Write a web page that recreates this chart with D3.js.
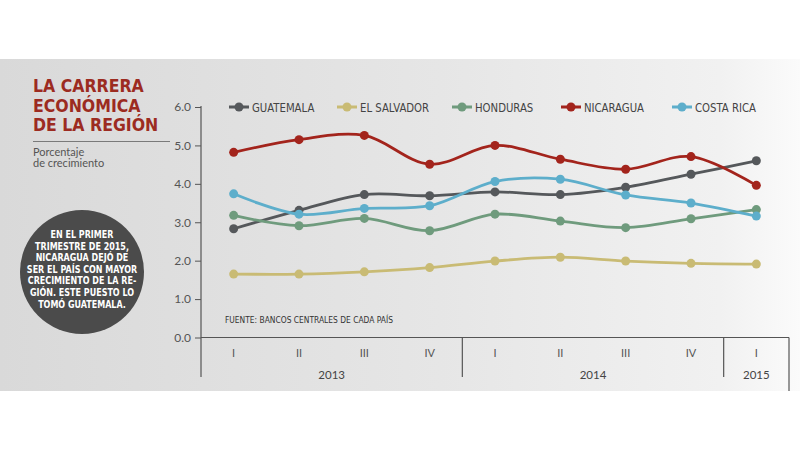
<!DOCTYPE html>
<html>
<head>
<meta charset="utf-8">
<script src="https://cdn.jsdelivr.net/npm/d3@7"></script>
<style>
  body { margin: 0; background: #fff; }
  svg { display: block; }
  .narrow { font-family: "Liberation Sans Narrow", "DejaVu Sans Condensed", "Roboto", sans-serif; font-stretch: condensed; }
  .light { font-family: "Lato", "Open Sans", sans-serif; }
</style>
</head>
<body>
<svg width="800" height="450"></svg>
<script>
// data
const quarters = ["I", "II", "III", "IV", "I", "II", "III", "IV", "I"];
const years = ["2013", "2014", "2015"];
const quartersPerYear = [4, 4, 1];
const countries = ["GUATEMALA", "EL SALVADOR", "HONDURAS", "NICARAGUA", "COSTA RICA"];
const colors = ["#55585b", "#c9bb74", "#6f9b7d", "#a3241c", "#5daecb"];
const guatemala = [2.83, 3.31, 3.72, 3.69, 3.79, 3.72, 3.91, 4.25, 4.6];
const elSalvador = [1.65, 1.65, 1.71, 1.82, 1.99, 2.09, 1.99, 1.93, 1.91];
const honduras = [3.18, 2.91, 3.1, 2.78, 3.21, 3.03, 2.86, 3.09, 3.33];
const nicaragua = [4.82, 5.15, 5.26, 4.51, 5.0, 4.64, 4.38, 4.71, 3.96];
const costaRica = [3.74, 3.21, 3.36, 3.43, 4.06, 4.12, 3.71, 3.5, 3.16];
const yTicks = [0, 1, 2, 3, 4, 5, 6];
const series = [guatemala, elSalvador, honduras, nicaragua, costaRica];

const svg = d3.select("svg");

// squeeze a text selection horizontally (no narrow font installed)
function condense(sel, k) {
  sel.each(function() {
    const w = this.getComputedTextLength();
    d3.select(this).attr("textLength", w * k).attr("lengthAdjust", "spacingAndGlyphs");
  });
}

// background band
const grad = svg.append("defs").append("linearGradient").attr("id", "bg");
grad.append("stop").attr("offset", "0%").attr("stop-color", "#d9d9d9");
grad.append("stop").attr("offset", "55%").attr("stop-color", "#e6e6e6");
grad.append("stop").attr("offset", "90%").attr("stop-color", "#f1f1f1");
grad.append("stop").attr("offset", "100%").attr("stop-color", "#fbfbfb");
svg.append("rect").attr("x", 0).attr("y", 59).attr("width", 800).attr("height", 332)
  .attr("fill", "url(#bg)");

const x = d3.scaleBand().domain(d3.range(quarters.length)).range([201, 789]);
const xc = i => x(i) + x.bandwidth() / 2;
const y = d3.scaleLinear().domain([0, 6]).range([337.5, 107]);

// title block
const title = ["LA CARRERA", "ECONÓMICA", "DE LA REGIÓN"];
svg.append("g").selectAll("text").data(title).enter().append("text")
  .attr("class", "narrow")
  .attr("x", 33).attr("y", (d, i) => 92 + i * 19.5)
  .attr("font-size", 17.5).attr("font-weight", "bold").attr("fill", "#9c2b21")
  .text(d => d);
svg.append("line").attr("x1", 33).attr("x2", 170).attr("y1", 141.5).attr("y2", 141.5)
  .attr("stroke", "#7a7a7a").attr("stroke-width", 1);
svg.append("g").selectAll("text").data(["Porcentaje", "de crecimiento"]).enter().append("text")
  .attr("class", "light")
  .attr("x", 33).attr("y", (d, i) => 155.5 + i * 11.5)
  .attr("font-size", 11).attr("fill", "#555")
  .text(d => d);

// note circle
const note = ["EN EL PRIMER", "TRIMESTRE DE 2015,", "NICARAGUA DEJÓ DE", "SER EL PAÍS CON MAYOR",
  "CRECIMIENTO DE LA RE-", "GIÓN. ESTE PUESTO LO", "TOMÓ GUATEMALA."];
svg.append("circle").attr("cx", 82).attr("cy", 272).attr("r", 62).attr("fill", "#4b4b4b");
svg.append("g").selectAll("text").data(note).enter().append("text")
  .attr("class", "narrow")
  .attr("x", 82).attr("y", (d, i) => 238 + i * 11.6)
  .attr("text-anchor", "middle").attr("font-size", 10).attr("font-weight", "bold")
  .attr("fill", "#fff")
  .text(d => d)
  .call(condense, 0.89);

// y axis
const yAxis = svg.append("g").attr("transform", "translate(201,0)")
  .call(d3.axisLeft(y).tickValues(yTicks).tickFormat(d3.format(".1f")).tickSize(6).tickPadding(4));
yAxis.select(".domain").remove();
yAxis.selectAll("line").attr("stroke", "#555");
yAxis.selectAll("text").attr("class", "light").attr("font-size", 12).attr("fill", "#555");

// x axis box
const axis = svg.append("g").attr("stroke", "#555").attr("stroke-width", 1.2);
axis.append("line").attr("x1", 201).attr("x2", 201).attr("y1", 106).attr("y2", 377);
axis.append("line").attr("x1", 201).attr("x2", 789).attr("y1", y(0)).attr("y2", y(0));
axis.append("line").attr("x1", 789).attr("x2", 789).attr("y1", y(0)).attr("y2", 391);
const yearStarts = d3.cumsum([0].concat(quartersPerYear));
axis.selectAll(".sep").data(yearStarts.slice(1, -1)).enter().append("line")
  .attr("x1", d => x(d)).attr("x2", d => x(d)).attr("y1", y(0)).attr("y2", 377);

svg.append("g").selectAll("text").data(quarters).enter().append("text")
  .attr("class", "light")
  .attr("x", (d, i) => xc(i)).attr("y", 357)
  .attr("text-anchor", "middle").attr("font-size", 11).attr("fill", "#555")
  .text(d => d);
svg.append("g").selectAll("text").data(years).enter().append("text")
  .attr("class", "light")
  .attr("x", (d, i) => (x(yearStarts[i]) + (yearStarts[i + 1] < quarters.length ? x(yearStarts[i + 1]) : 789)) / 2)
  .attr("y", 379)
  .attr("text-anchor", "middle").attr("font-size", 11.5).attr("fill", "#444")
  .text(d => d);

// source
svg.append("text").attr("class", "narrow")
  .attr("x", 225).attr("y", 323).attr("font-size", 9).attr("fill", "#333")
  .text("FUENTE: BANCOS CENTRALES DE CADA PAÍS")
  .call(condense, 0.93);

// lines
const line = d3.line().x((d, i) => xc(i)).y(d => y(d)).curve(d3.curveCatmullRom.alpha(0.5));
const g = svg.append("g");
series.forEach((vals, k) => {
  g.append("path").datum(vals).attr("d", line)
    .attr("fill", "none").attr("stroke", colors[k]).attr("stroke-width", 2.8);
  g.selectAll(".p" + k).data(vals).enter().append("circle")
    .attr("cx", (d, i) => xc(i)).attr("cy", d => y(d)).attr("r", 4.5)
    .attr("fill", colors[k]);
});

// legend
const legendX = [229, 337, 452, 561, 672];
const legend = svg.append("g").selectAll("g").data(countries).enter().append("g")
  .attr("transform", (d, i) => `translate(${legendX[i]},107)`);
legend.append("line").attr("x1", 0).attr("x2", 20).attr("stroke", (d, i) => colors[i]).attr("stroke-width", 3);
legend.append("circle").attr("cx", 10).attr("r", 4.5).attr("fill", (d, i) => colors[i]);
legend.append("text").attr("class", "narrow")
  .attr("x", 23).attr("y", 4.5).attr("font-size", 12.5).attr("fill", "#444")
  .text(d => d)
  .call(condense, 0.9);
</script>
</body>
</html>
